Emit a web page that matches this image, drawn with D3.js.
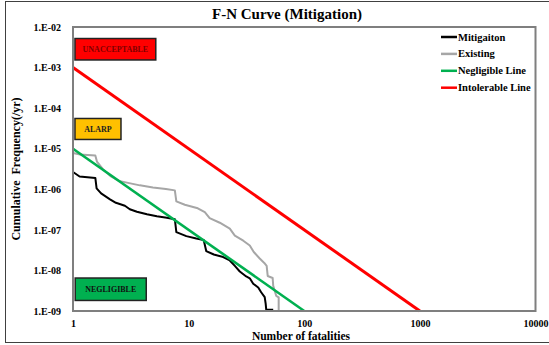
<!DOCTYPE html>
<html>
<head>
<meta charset="utf-8">
<script src="https://cdn.jsdelivr.net/npm/d3@7"></script>
<style>
  body { margin: 0; background: #fff; overflow: hidden; }
  svg { display: block; }
  svg text { font-family: "Liberation Serif", "Times New Roman", serif; font-weight: bold; }
</style>
</head>
<body>
<div class="container"></div>
<script>
var w = 549;
var h = 345;

// data: [fatalities N, cumulative frequency F]
var mitigation = [
  [1, 2.67e-6], [1.14, 2.07e-6], [1.56, 1.9e-6], [1.6, 1.05e-6], [1.75, 7.9e-7],
  [2.09, 5.65e-7], [2.35, 4.64e-7], [2.81, 3.92e-7], [3.1, 3.21e-7], [3.57, 2.79e-7],
  [4.36, 2.43e-7], [5.31, 2.17e-7], [6.48, 1.99e-7], [7.6, 1.83e-7], [7.83, 8.8e-8],
  [9.55, 7.0e-8], [11.65, 6.1e-8], [13.5, 5.6e-8], [14.2, 3.0e-8], [16.5, 2.47e-8],
  [19.9, 2.14e-8], [22.7, 1.76e-8], [25.1, 1.29e-8], [27.7, 9.4e-9], [31.5, 7.1e-9],
  [33.8, 6.4e-9], [36.2, 4.7e-9], [40, 3.8e-9], [42.4, 2.9e-9], [45.5, 2.2e-9],
  [46.4, 1.5e-9], [46.9, 1.08e-9], [53.9, 1.08e-9]
];
var existing = [
  [1, 7.8e-6], [1.15, 7.16e-6], [1.56, 6.78e-6], [1.61, 4.83e-6], [1.82, 3.08e-6],
  [2.13, 2.07e-6], [2.5, 1.61e-6], [2.99, 1.44e-6], [3.79, 1.25e-6], [4.91, 1.11e-6],
  [6.36, 1.02e-6], [7.6, 9.4e-7], [7.83, 5.05e-7], [9.27, 4.15e-7], [12, 3.4e-7],
  [13.8, 2.72e-7], [15.2, 1.94e-7], [18.6, 1.5e-7], [22.7, 1.07e-7], [25.1, 7.2e-8],
  [29.7, 5.4e-8], [33.8, 4.1e-8], [36.6, 2.84e-8], [41.2, 1.97e-8], [45.1, 1.53e-8],
  [47.3, 1.29e-8], [48.3, 7.3e-9], [53.3, 6.5e-9], [53.9, 4.2e-9], [57.2, 2.37e-9],
  [60.1, 2.18e-9], [60.1, 1.05e-9]
];
var negligibleLine = [[1, 1e-5], [100, 1e-9]];
var intolerableLine = [[1, 1e-3], [1000, 1e-9]];

var xTicks = [1, 10, 100, 1000, 10000];
var yTicks = [1e-2, 1e-3, 1e-4, 1e-5, 1e-6, 1e-7, 1e-8, 1e-9];

var seriesNames = ["Mitigaiton", "Existing", "Negligible Line", "Intolerable Line"];
var seriesColors = ["#000000", "#a6a6a6", "#00b050", "#ff0000"];

var zones = [
  { label: "UNACCEPTABLE", N: [1.04, 5.2], F: [5.2e-3, 1.54e-3], fill: "#ff0000", text: "#800000" },
  { label: "ALARP", N: [1.04, 2.6], F: [5.56e-5, 1.69e-5], fill: "#ffc000", text: "#222" },
  { label: "NEGLIGIBLE", N: [1.045, 4.3], F: [6.5e-9, 1.82e-9], fill: "#00b050", text: "#111" }
];

var pLeft = 73, pRight = 535.5, pTop = 27, pBottom = 311;

var canvas = d3.select(".container").append("svg")
  .attr("width", w)
  .attr("height", h);

// outer frame
canvas.append("rect")
  .attr("x", 5.5).attr("y", 1.5)
  .attr("width", w).attr("height", 341)
  .attr("fill", "none").attr("stroke", "#404040").attr("stroke-width", 1);

var x = d3.scaleLog().domain([1, 10000]).range([pLeft, pRight]);
var y = d3.scaleLog().domain([1e-9, 1e-2]).range([pBottom, pTop]);

canvas.append("text")
  .attr("x", 287).attr("y", 19)
  .attr("text-anchor", "middle")
  .style("font-size", "15px")
  .text("F-N Curve (Mitigation)");

// axes (labels only)
var yAxis = canvas.append("g")
  .attr("transform", "translate(" + (pLeft - 9) + ",0)")
  .call(d3.axisLeft(y).tickValues(yTicks).tickSize(0)
    .tickFormat(d => "1.E-" + String(Math.round(-Math.log10(d))).padStart(2, "0")));
yAxis.select(".domain").remove();
yAxis.selectAll("text").style("font-size", "10px").attr("fill", "#000");

var xAxis = canvas.append("g")
  .attr("transform", "translate(0," + (pBottom + 6) + ")")
  .call(d3.axisBottom(x).tickValues(xTicks).tickSize(0).tickFormat(d3.format("d")));
xAxis.select(".domain").remove();
xAxis.selectAll("text").style("font-size", "10px").attr("fill", "#000");

canvas.append("text")
  .attr("x", 301).attr("y", 339.5)
  .attr("text-anchor", "middle")
  .style("font-size", "11.5px")
  .text("Number of fatalities");

canvas.append("text")
  .attr("transform", "translate(20,169) rotate(-90)")
  .attr("text-anchor", "middle")
  .style("font-size", "12px")
  .style("white-space", "pre")
  .text("Cumulative  Frequency(/yr)");

// zone boxes
var zone = canvas.append("g").selectAll("g").data(zones).enter().append("g");
zone.append("rect")
  .attr("x", d => x(d.N[0]))
  .attr("y", d => y(d.F[0]))
  .attr("width", d => x(d.N[1]) - x(d.N[0]))
  .attr("height", d => y(d.F[1]) - y(d.F[0]))
  .attr("fill", d => d.fill)
  .attr("stroke", "#222").attr("stroke-width", 1.5);
zone.append("text")
  .attr("x", d => (x(d.N[0]) + x(d.N[1])) / 2)
  .attr("y", d => (y(d.F[0]) + y(d.F[1])) / 2 + 3)
  .attr("text-anchor", "middle")
  .attr("fill", d => d.text)
  .style("font-size", "8px")
  .text(d => d.label);

var line = d3.line().x(d => x(d[0])).y(d => y(d[1]));

var series = [mitigation, existing, negligibleLine, intolerableLine];
var widths = [2, 2, 2.6, 3];
var drawOrder = [1, 0, 2, 3];

drawOrder.forEach(function (i) {
  canvas.append("path")
    .datum(series[i])
    .attr("d", line)
    .attr("fill", "none")
    .attr("stroke", seriesColors[i])
    .attr("stroke-width", widths[i])
    .attr("stroke-linejoin", "round");
});

// plot border
canvas.append("rect")
  .attr("x", pLeft).attr("y", pTop)
  .attr("width", pRight - pLeft).attr("height", pBottom - pTop)
  .attr("fill", "none").attr("stroke", "#7f7f7f").attr("stroke-width", 2);

// legend
var legend = canvas.append("g").selectAll("g").data(seriesNames).enter().append("g")
  .attr("transform", (d, i) => "translate(441," + (37 + i * 16.9) + ")");
legend.append("line")
  .attr("x1", 0).attr("x2", 16)
  .attr("stroke", (d, i) => seriesColors[i])
  .attr("stroke-width", 2.5);
legend.append("text")
  .attr("x", 17).attr("y", 3.5)
  .style("font-size", "10.5px")
  .text(d => d);
</script>
</body>
</html>
